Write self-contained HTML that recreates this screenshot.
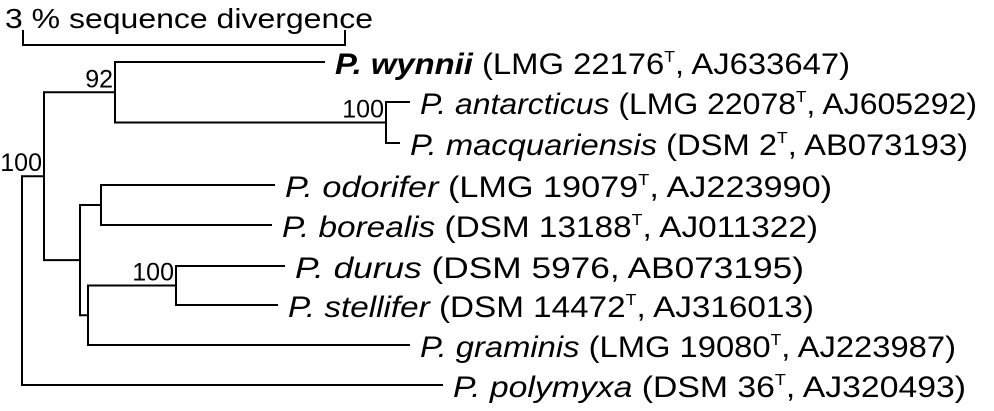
<!DOCTYPE html>
<html><head><meta charset="utf-8"><style>
html,body{margin:0;padding:0;background:#fff;}
svg{display:block;font-family:"Liberation Sans",Arial,sans-serif;}
</style></head><body>
<svg width="994" height="411" viewBox="0 0 994 411">
<g stroke="#000" stroke-width="2" fill="none" id="branches"></g>
<g id="labels"></g>
<g>
<path d="M23,30 V45 H345 V30" stroke="#000" stroke-width="2" fill="none"/>
<text x="5" y="28" font-size="28" textLength="368" lengthAdjust="spacingAndGlyphs">3 % sequence divergence</text>
</g>
</svg>
<script>
// tree structure: node x positions (distance), tips
const nodeNames = ['root','n100','n92','nAnt','nLow','nOdo','nSub','nDur'];
const nodeX = [22,44,115,386,80,101,88,176];
const tipNames = ['wynnii','antarcticus','macquariensis','odorifer','borealis','durus','stellifer','graminis','polymyxa'];
const tipX = [325,410,400,275,272,285,278,410,443];
const tipY = [62,102,143,185,225,266,305,345,385];
const tipParent = ['n92','nAnt','nAnt','nOdo','nOdo','nDur','nDur','nSub','root'];
const nodeParent = {n100:'root',n92:'n100',nAnt:'n92',nLow:'n100',nOdo:'nLow',nSub:'nLow',nDur:'nSub'};
const bootstrap = {root:'100',n92:'92',nAnt:'100',nDur:'100'};
const tipLabels = [
 ['<tspan font-weight="bold" font-style="italic">P. wynnii</tspan> (LMG 22176<tspan font-size="16" dy="-12">T</tspan><tspan dy="12">, AJ633647)</tspan>',515],
 ['<tspan font-style="italic">P. antarcticus</tspan> (LMG 22078<tspan font-size="16" dy="-12">T</tspan><tspan dy="12">, AJ605292)</tspan>',557],
 ['<tspan font-style="italic">P. macquariensis</tspan> (DSM 2<tspan font-size="16" dy="-12">T</tspan><tspan dy="12">, AB073193)</tspan>',558],
 ['<tspan font-style="italic">P. odorifer</tspan> (LMG 19079<tspan font-size="16" dy="-12">T</tspan><tspan dy="12">, AJ223990)</tspan>',547],
 ['<tspan font-style="italic">P. borealis</tspan> (DSM 13188<tspan font-size="16" dy="-12">T</tspan><tspan dy="12">, AJ011322)</tspan>',536],
 ['<tspan font-style="italic">P. durus</tspan> (DSM 5976, AB073195)',509],
 ['<tspan font-style="italic">P. stellifer</tspan> (DSM 14472<tspan font-size="16" dy="-12">T</tspan><tspan dy="12">, AJ316013)</tspan>',526],
 ['<tspan font-style="italic">P. graminis</tspan> (LMG 19080<tspan font-size="16" dy="-12">T</tspan><tspan dy="12">, AJ223987)</tspan>',536],
 ['<tspan font-style="italic">P. polymyxa</tspan> (DSM 36<tspan font-size="16" dy="-12">T</tspan><tspan dy="12">, AJ320493)</tspan>',513]
];
const NS='http://www.w3.org/2000/svg';
const X={};nodeNames.forEach((n,i)=>X[n]=nodeX[i]);
const Y={};
function yOf(n){
  if(Y[n]!==undefined) return Y[n];
  const ys=[];
  tipNames.forEach((t,i)=>{if(tipParent[i]===n) ys.push(tipY[i]);});
  Object.keys(nodeParent).forEach(c=>{if(nodeParent[c]===n) ys.push(yOf(c).mid);});
  Y[n]={min:Math.min(...ys),max:Math.max(...ys),mid:(Math.min(...ys)+Math.max(...ys))/2};
  return Y[n];
}
const br=document.getElementById('branches');
const lb=document.getElementById('labels');
function line(d,name){
  const p=document.createElementNS(NS,'path');p.setAttribute('d',d);
  
  
  br.appendChild(p);
}
nodeNames.forEach(n=>{
  const y=yOf(n);
  line(`M${X[n]},${y.min-1} V${y.max+1}`,'node-'+n);
  if(nodeParent[n]) line(`M${X[nodeParent[n]]},${y.mid} H${X[n]}`,'branch-'+n);
  if(bootstrap[n]){
    const t=document.createElementNS(NS,'text');
    const isRoot = !nodeParent[n];
    t.setAttribute('x', isRoot ? X[n]+20 : X[n]-2);
    t.setAttribute('y', isRoot ? y.min-5 : y.mid-5);
    t.setAttribute('text-anchor','end');t.setAttribute('font-size','25');
    t.textContent=bootstrap[n];
    
    
    lb.appendChild(t);
  }
});
tipNames.forEach((t,i)=>{
  line(`M${X[tipParent[i]]},${tipY[i]} H${tipX[i]}`,'branch-'+t);
  const tx=document.createElementNS(NS,'text');
  tx.setAttribute('x',tipX[i]+10);tx.setAttribute('y',tipY[i]+12);
  tx.setAttribute('font-size','30');
  tx.setAttribute('textLength',tipLabels[i][1]);
  tx.setAttribute('lengthAdjust','spacingAndGlyphs');
  tx.innerHTML=tipLabels[i][0];
  
  
  lb.appendChild(tx);
});
</script>
</body></html>
